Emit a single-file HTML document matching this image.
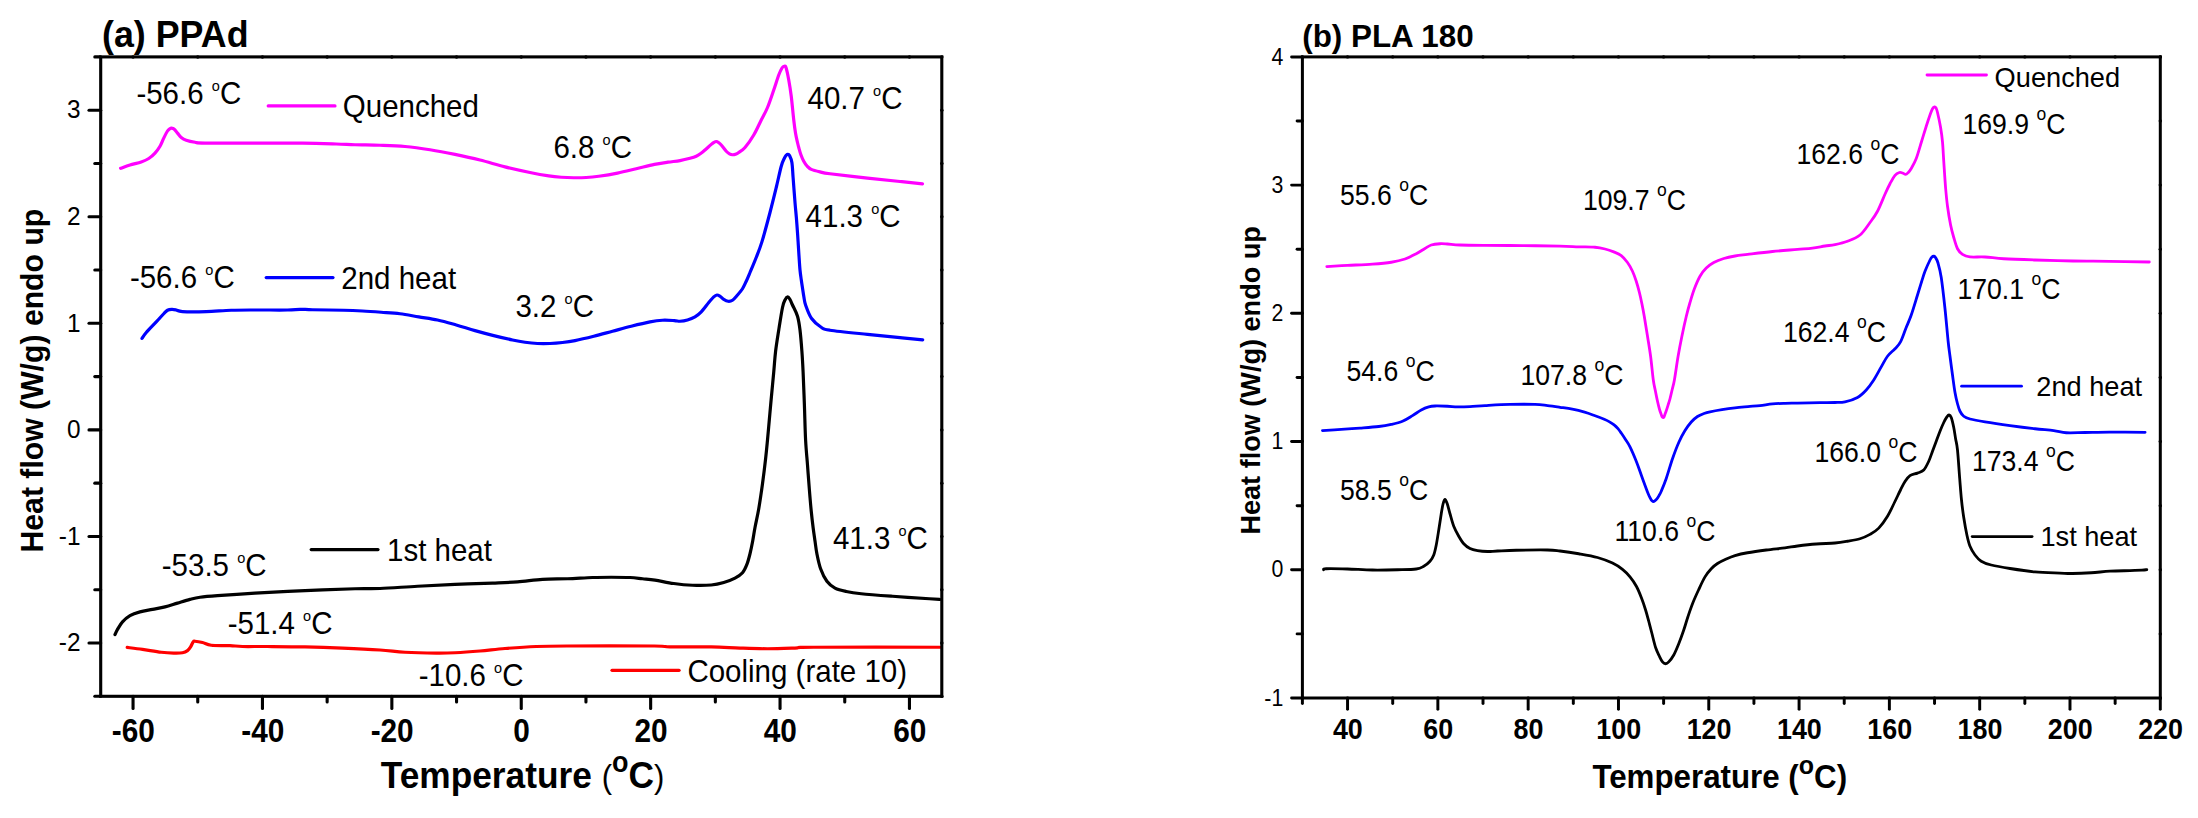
<!DOCTYPE html>
<html lang="en"><head><meta charset="utf-8"><title>DSC thermograms</title>
<style>
html,body{margin:0;padding:0;background:#fff;}
body{width:2198px;height:818px;overflow:hidden;}
svg{display:block;}
text{font-family:"Liberation Sans",sans-serif;fill:#000;}
.b{font-weight:bold;}
.ax{stroke:#000;fill:none;stroke-linecap:butt;}
.cv{fill:none;stroke-linejoin:round;stroke-linecap:round;}
</style></head><body>
<svg width="2198" height="818" viewBox="0 0 2198 818">
<rect x="0" y="0" width="2198" height="818" fill="#fff"/>
<g id="chart-a">
<path class="cv" d="M127.20,647.40 C129.75,647.73 136.82,648.59 142.50,649.40 C148.18,650.21 156.04,651.63 161.25,652.25 C166.46,652.87 170.21,653.02 173.75,653.10 C177.29,653.18 180.21,653.17 182.50,652.75 C184.79,652.33 186.15,651.58 187.50,650.60 C188.85,649.62 189.67,648.35 190.60,646.90 C191.53,645.45 192.37,642.84 193.10,641.90 C193.83,640.96 193.43,641.15 195.00,641.25 C196.57,641.35 199.79,641.83 202.50,642.50 C205.21,643.17 206.67,644.73 211.25,645.25 C215.83,645.77 224.79,645.39 230.00,645.60 C235.21,645.81 236.25,646.35 242.50,646.50 C248.75,646.65 257.08,646.43 267.50,646.50 C277.92,646.57 292.50,646.63 305.00,646.90 C317.50,647.17 330.00,647.58 342.50,648.10 C355.00,648.62 369.58,649.31 380.00,650.00 C390.42,650.69 395.62,651.73 405.00,652.25 C414.38,652.77 427.92,653.02 436.25,653.10 C444.58,653.18 447.71,653.10 455.00,652.75 C462.29,652.40 471.67,651.71 480.00,651.00 C488.33,650.29 495.62,649.25 505.00,648.50 C514.38,647.75 525.83,646.92 536.25,646.50 C546.67,646.08 547.81,646.08 567.50,646.00 C587.19,645.92 637.32,645.85 654.40,646.00 C671.48,646.15 660.52,646.75 670.00,646.90 C679.48,647.05 699.58,646.70 711.25,646.90 C722.92,647.10 730.62,647.79 740.00,648.10 C749.38,648.41 758.33,648.75 767.50,648.75 C776.67,648.75 787.29,648.35 795.00,648.10 C802.71,647.85 789.58,647.39 813.75,647.25 C837.92,647.11 918.96,647.25 940.00,647.25" stroke="#ff0000" stroke-width="3.20"/>
<path class="cv" d="M115.00,634.50 C115.42,633.65 116.25,631.50 117.50,629.40 C118.75,627.30 120.42,624.20 122.50,621.90 C124.58,619.60 127.08,617.27 130.00,615.60 C132.92,613.93 136.25,612.93 140.00,611.90 C143.75,610.87 148.33,610.23 152.50,609.40 C156.67,608.57 160.83,607.95 165.00,606.90 C169.17,605.85 173.33,604.35 177.50,603.10 C181.67,601.85 186.25,600.38 190.00,599.40 C193.75,598.42 195.42,597.88 200.00,597.25 C204.58,596.62 208.33,596.29 217.50,595.60 C226.67,594.91 240.42,593.93 255.00,593.10 C269.58,592.27 288.33,591.33 305.00,590.60 C321.67,589.88 342.50,589.10 355.00,588.75 C367.50,588.40 369.58,588.92 380.00,588.50 C390.42,588.08 405.00,586.93 417.50,586.25 C430.00,585.57 442.50,584.92 455.00,584.40 C467.50,583.88 482.08,583.52 492.50,583.10 C502.92,582.68 509.17,582.52 517.50,581.90 C525.83,581.28 534.17,579.92 542.50,579.40 C550.83,578.88 559.17,579.07 567.50,578.75 C575.83,578.43 585.21,577.75 592.50,577.50 C599.79,577.25 605.00,577.25 611.25,577.25 C617.50,577.25 624.79,577.25 630.00,577.50 C635.21,577.75 638.33,578.32 642.50,578.75 C646.67,579.18 649.79,579.31 655.00,580.10 C660.21,580.89 667.50,582.64 673.75,583.50 C680.00,584.36 686.25,585.00 692.50,585.25 C698.75,585.50 706.04,585.46 711.25,585.00 C716.46,584.54 719.79,583.65 723.75,582.50 C727.71,581.35 731.88,579.73 735.00,578.10 C738.12,576.48 740.52,575.03 742.50,572.75 C744.48,570.47 745.65,567.57 746.90,564.40 C748.15,561.23 749.03,557.65 750.00,553.75 C750.97,549.85 751.87,545.38 752.70,541.00 C753.53,536.62 753.99,532.88 755.00,527.50 C756.01,522.12 757.50,516.04 758.75,508.75 C760.00,501.46 761.36,492.08 762.50,483.75 C763.64,475.42 764.77,466.04 765.60,458.75 C766.43,451.46 766.88,446.46 767.50,440.00 C768.12,433.54 768.70,426.67 769.30,420.00 C769.90,413.33 770.36,408.00 771.10,400.00 C771.84,392.00 773.00,380.12 773.75,372.00 C774.50,363.88 774.77,358.25 775.60,351.25 C776.43,344.25 777.60,337.29 778.75,330.00 C779.90,322.71 781.46,312.50 782.50,307.50 C783.54,302.50 784.12,301.77 785.00,300.00 C785.88,298.23 786.92,296.98 787.75,296.90 C788.58,296.82 789.21,298.15 790.00,299.50 C790.79,300.85 791.25,302.21 792.50,305.00 C793.75,307.79 796.25,312.08 797.50,316.25 C798.75,320.42 799.27,324.17 800.00,330.00 C800.73,335.83 801.38,344.25 801.90,351.25 C802.42,358.25 802.68,363.04 803.10,372.00 C803.52,380.96 803.98,393.67 804.40,405.00 C804.82,416.33 805.08,430.00 805.60,440.00 C806.12,450.00 806.87,456.67 807.50,465.00 C808.13,473.33 808.77,482.29 809.40,490.00 C810.02,497.71 810.63,505.00 811.25,511.25 C811.87,517.50 812.48,522.54 813.10,527.50 C813.73,532.46 814.37,536.62 815.00,541.00 C815.63,545.38 815.97,549.12 816.90,553.75 C817.83,558.38 818.93,564.17 820.60,568.75 C822.27,573.33 824.50,578.02 826.90,581.25 C829.30,584.48 831.77,586.39 835.00,588.10 C838.23,589.81 841.88,590.56 846.25,591.50 C850.62,592.44 853.54,592.96 861.25,593.75 C868.96,594.54 881.14,595.42 892.50,596.25 C903.86,597.08 921.48,598.21 929.40,598.75 C937.32,599.29 938.23,599.38 940.00,599.50" stroke="#000000" stroke-width="3.20"/>
<path class="cv" d="M142.00,338.40 C142.71,337.42 143.88,335.25 146.25,332.50 C148.62,329.75 153.33,325.02 156.25,321.90 C159.17,318.77 161.88,315.69 163.75,313.75 C165.62,311.81 166.14,310.98 167.50,310.25 C168.86,309.52 170.44,309.44 171.90,309.40 C173.36,309.36 174.48,309.63 176.25,310.00 C178.02,310.37 177.50,311.33 182.50,311.60 C187.50,311.87 198.12,311.83 206.25,311.60 C214.38,311.38 222.92,310.52 231.25,310.25 C239.58,309.98 246.88,310.04 256.25,310.00 C265.62,309.96 280.21,310.12 287.50,310.00 C294.79,309.88 295.83,309.34 300.00,309.30 C304.17,309.26 305.21,309.59 312.50,309.75 C319.79,309.91 335.42,310.04 343.75,310.25 C352.08,310.46 356.25,310.67 362.50,311.00 C368.75,311.33 375.00,311.79 381.25,312.25 C387.50,312.71 393.75,312.98 400.00,313.75 C406.25,314.52 412.50,315.86 418.75,316.90 C425.00,317.94 431.25,318.65 437.50,320.00 C443.75,321.35 450.00,323.23 456.25,325.00 C462.50,326.77 468.75,328.83 475.00,330.60 C481.25,332.37 487.50,334.03 493.75,335.60 C500.00,337.17 507.29,338.89 512.50,340.00 C517.71,341.11 520.83,341.67 525.00,342.25 C529.17,342.83 533.33,343.29 537.50,343.50 C541.67,343.71 545.83,343.67 550.00,343.50 C554.17,343.33 558.33,342.98 562.50,342.50 C566.67,342.02 569.79,341.64 575.00,340.60 C580.21,339.56 587.50,337.81 593.75,336.25 C600.00,334.69 606.25,332.92 612.50,331.25 C618.75,329.58 625.00,327.81 631.25,326.25 C637.50,324.69 644.79,322.90 650.00,321.90 C655.21,320.90 658.43,320.47 662.50,320.25 C666.57,320.03 671.48,320.43 674.40,320.60 C677.32,320.77 677.82,321.35 680.00,321.25 C682.18,321.15 685.00,320.73 687.50,320.00 C690.00,319.27 692.71,318.25 695.00,316.90 C697.29,315.55 698.96,314.30 701.25,311.90 C703.54,309.50 706.67,305.00 708.75,302.50 C710.83,300.00 712.39,298.15 713.75,296.90 C715.11,295.65 715.86,295.11 716.90,295.00 C717.94,294.89 718.86,295.52 720.00,296.25 C721.14,296.98 722.40,298.57 723.75,299.40 C725.10,300.23 726.64,301.11 728.10,301.25 C729.56,301.39 730.93,301.29 732.50,300.25 C734.07,299.21 735.83,296.92 737.50,295.00 C739.17,293.08 741.04,291.04 742.50,288.75 C743.96,286.46 745.00,283.96 746.25,281.25 C747.50,278.54 748.38,276.38 750.00,272.50 C751.62,268.62 754.02,263.10 756.00,258.00 C757.98,252.90 759.57,249.48 761.90,241.90 C764.23,234.32 767.61,221.57 770.00,212.50 C772.39,203.43 774.38,195.21 776.25,187.50 C778.12,179.79 779.88,171.17 781.25,166.25 C782.62,161.33 783.62,159.88 784.50,158.00 C785.38,156.12 785.96,155.60 786.50,155.00 C787.04,154.40 787.25,154.32 787.75,154.40 C788.25,154.48 788.81,154.15 789.50,155.50 C790.19,156.85 791.30,158.83 791.90,162.50 C792.50,166.17 792.58,170.83 793.10,177.50 C793.62,184.17 794.45,195.75 795.00,202.50 C795.55,209.25 795.97,212.72 796.40,218.00 C796.83,223.28 797.28,229.70 797.60,234.20 C797.92,238.70 798.07,241.37 798.30,245.00 C798.53,248.63 798.72,251.83 799.00,256.00 C799.28,260.17 799.62,266.00 800.00,270.00 C800.38,274.00 800.87,276.88 801.30,280.00 C801.73,283.12 802.17,285.92 802.60,288.75 C803.03,291.58 803.40,294.29 803.90,297.00 C804.40,299.71 804.32,301.42 805.60,305.00 C806.88,308.58 808.95,314.75 811.60,318.50 C814.25,322.25 818.43,325.54 821.50,327.50 C824.57,329.46 822.33,329.10 830.00,330.25 C837.67,331.40 855.83,333.17 867.50,334.40 C879.17,335.62 890.80,336.68 900.00,337.60 C909.20,338.52 918.92,339.52 922.70,339.90" stroke="#0000ff" stroke-width="3.20"/>
<path class="cv" d="M120.60,168.30 C122.17,167.75 126.56,166.07 130.00,165.00 C133.44,163.93 138.12,162.98 141.25,161.90 C144.38,160.82 146.46,159.97 148.75,158.50 C151.04,157.03 153.12,155.14 155.00,153.10 C156.88,151.06 158.54,148.75 160.00,146.25 C161.46,143.75 162.50,140.64 163.75,138.10 C165.00,135.56 166.54,132.52 167.50,131.00 C168.46,129.48 168.88,129.48 169.50,129.00 C170.12,128.52 170.67,128.20 171.25,128.10 C171.83,128.00 172.47,128.18 173.00,128.40 C173.53,128.62 173.65,128.62 174.40,129.40 C175.15,130.18 176.36,131.75 177.50,133.10 C178.64,134.45 179.79,136.31 181.25,137.50 C182.71,138.69 183.96,139.46 186.25,140.25 C188.54,141.04 191.88,141.78 195.00,142.25 C198.12,142.72 195.00,142.96 205.00,143.10 C215.00,143.24 238.75,143.08 255.00,143.10 C271.25,143.12 288.96,143.05 302.50,143.20 C316.04,143.35 327.50,143.74 336.25,144.00 C345.00,144.26 347.71,144.54 355.00,144.75 C362.29,144.96 371.67,144.96 380.00,145.25 C388.33,145.54 396.67,145.75 405.00,146.50 C413.33,147.25 421.67,148.43 430.00,149.75 C438.33,151.07 446.67,152.69 455.00,154.40 C463.33,156.11 471.67,157.92 480.00,160.00 C488.33,162.08 496.67,164.82 505.00,166.90 C513.33,168.98 522.71,171.00 530.00,172.50 C537.29,174.00 543.54,175.11 548.75,175.90 C553.96,176.69 557.08,176.94 561.25,177.25 C565.42,177.56 569.58,177.71 573.75,177.75 C577.92,177.79 582.08,177.75 586.25,177.50 C590.42,177.25 593.54,176.98 598.75,176.25 C603.96,175.52 611.25,174.35 617.50,173.10 C623.75,171.85 630.10,170.20 636.25,168.75 C642.40,167.30 649.11,165.49 654.40,164.40 C659.69,163.31 663.73,162.83 668.00,162.20 C672.27,161.57 676.33,161.25 680.00,160.60 C683.67,159.95 687.29,159.03 690.00,158.30 C692.71,157.58 694.42,157.08 696.25,156.25 C698.08,155.42 699.54,154.34 701.00,153.30 C702.46,152.26 703.29,151.48 705.00,150.00 C706.71,148.52 709.75,145.68 711.25,144.40 C712.75,143.12 713.17,142.78 714.00,142.30 C714.83,141.82 715.50,141.47 716.25,141.50 C717.00,141.53 717.67,141.92 718.50,142.50 C719.33,143.08 719.96,143.54 721.25,145.00 C722.54,146.46 724.88,149.78 726.25,151.25 C727.62,152.72 728.46,153.22 729.50,153.80 C730.54,154.38 731.50,154.67 732.50,154.75 C733.50,154.83 734.46,154.68 735.50,154.30 C736.54,153.93 737.17,153.63 738.75,152.50 C740.33,151.37 742.50,150.42 745.00,147.50 C747.50,144.58 751.04,139.58 753.75,135.00 C756.46,130.42 758.96,124.58 761.25,120.00 C763.54,115.42 765.42,112.50 767.50,107.50 C769.58,102.50 771.88,95.42 773.75,90.00 C775.62,84.58 777.38,78.67 778.75,75.00 C780.12,71.33 781.11,69.46 782.00,68.00 C782.89,66.54 783.43,66.33 784.10,66.25 C784.77,66.17 785.23,65.21 786.00,67.50 C786.77,69.79 787.88,75.21 788.75,80.00 C789.62,84.79 790.42,89.58 791.25,96.25 C792.08,102.92 793.04,113.88 793.75,120.00 C794.46,126.12 794.88,129.25 795.50,133.00 C796.12,136.75 796.96,140.08 797.50,142.50 C798.04,144.92 798.17,145.42 798.75,147.50 C799.33,149.58 800.17,152.71 801.00,155.00 C801.83,157.29 802.75,159.42 803.75,161.25 C804.75,163.08 805.75,164.64 807.00,166.00 C808.25,167.36 809.08,168.42 811.25,169.40 C813.42,170.38 816.88,171.18 820.00,171.90 C823.12,172.62 822.08,172.72 830.00,173.75 C837.92,174.78 855.83,176.81 867.50,178.10 C879.17,179.39 890.83,180.53 900.00,181.50 C909.17,182.47 918.75,183.50 922.50,183.90" stroke="#ff00ff" stroke-width="3.20"/>
<rect class="ax" x="100.70" y="56.90" width="841.10" height="639.40" stroke-width="3.10"/>
<line x1="94.80" y1="696.30" x2="100.70" y2="696.30" stroke="#000" stroke-width="3.10" stroke-linecap="round"/>
<line x1="89.00" y1="643.02" x2="100.70" y2="643.02" stroke="#000" stroke-width="3.10" stroke-linecap="round"/>
<text transform="translate(80.50,651.32) scale(1,1.0900)" font-size="24.40" text-anchor="end">-2</text>
<line x1="94.80" y1="589.73" x2="100.70" y2="589.73" stroke="#000" stroke-width="3.10" stroke-linecap="round"/>
<line x1="89.00" y1="536.45" x2="100.70" y2="536.45" stroke="#000" stroke-width="3.10" stroke-linecap="round"/>
<text transform="translate(80.50,544.75) scale(1,1.0900)" font-size="24.40" text-anchor="end">-1</text>
<line x1="94.80" y1="483.17" x2="100.70" y2="483.17" stroke="#000" stroke-width="3.10" stroke-linecap="round"/>
<line x1="89.00" y1="429.88" x2="100.70" y2="429.88" stroke="#000" stroke-width="3.10" stroke-linecap="round"/>
<text transform="translate(80.50,438.18) scale(1,1.0900)" font-size="24.40" text-anchor="end">0</text>
<line x1="94.80" y1="376.60" x2="100.70" y2="376.60" stroke="#000" stroke-width="3.10" stroke-linecap="round"/>
<line x1="89.00" y1="323.32" x2="100.70" y2="323.32" stroke="#000" stroke-width="3.10" stroke-linecap="round"/>
<text transform="translate(80.50,331.62) scale(1,1.0900)" font-size="24.40" text-anchor="end">1</text>
<line x1="94.80" y1="270.03" x2="100.70" y2="270.03" stroke="#000" stroke-width="3.10" stroke-linecap="round"/>
<line x1="89.00" y1="216.75" x2="100.70" y2="216.75" stroke="#000" stroke-width="3.10" stroke-linecap="round"/>
<text transform="translate(80.50,225.05) scale(1,1.0900)" font-size="24.40" text-anchor="end">2</text>
<line x1="94.80" y1="163.47" x2="100.70" y2="163.47" stroke="#000" stroke-width="3.10" stroke-linecap="round"/>
<line x1="89.00" y1="110.18" x2="100.70" y2="110.18" stroke="#000" stroke-width="3.10" stroke-linecap="round"/>
<text transform="translate(80.50,118.48) scale(1,1.0900)" font-size="24.40" text-anchor="end">3</text>
<line x1="94.80" y1="56.90" x2="100.70" y2="56.90" stroke="#000" stroke-width="3.10" stroke-linecap="round"/>
<line x1="133.05" y1="696.30" x2="133.05" y2="708.50" stroke="#000" stroke-width="3.10" stroke-linecap="round"/>
<text transform="translate(133.35,742.00) scale(1,1.1100)" font-size="29.80" class="b" text-anchor="middle">-60</text>
<line x1="197.75" y1="696.30" x2="197.75" y2="701.90" stroke="#000" stroke-width="3.10" stroke-linecap="round"/>
<line x1="262.45" y1="696.30" x2="262.45" y2="708.50" stroke="#000" stroke-width="3.10" stroke-linecap="round"/>
<text transform="translate(262.75,742.00) scale(1,1.1100)" font-size="29.80" class="b" text-anchor="middle">-40</text>
<line x1="327.15" y1="696.30" x2="327.15" y2="701.90" stroke="#000" stroke-width="3.10" stroke-linecap="round"/>
<line x1="391.85" y1="696.30" x2="391.85" y2="708.50" stroke="#000" stroke-width="3.10" stroke-linecap="round"/>
<text transform="translate(392.15,742.00) scale(1,1.1100)" font-size="29.80" class="b" text-anchor="middle">-20</text>
<line x1="456.55" y1="696.30" x2="456.55" y2="701.90" stroke="#000" stroke-width="3.10" stroke-linecap="round"/>
<line x1="521.25" y1="696.30" x2="521.25" y2="708.50" stroke="#000" stroke-width="3.10" stroke-linecap="round"/>
<text transform="translate(521.55,742.00) scale(1,1.1100)" font-size="29.80" class="b" text-anchor="middle">0</text>
<line x1="585.95" y1="696.30" x2="585.95" y2="701.90" stroke="#000" stroke-width="3.10" stroke-linecap="round"/>
<line x1="650.65" y1="696.30" x2="650.65" y2="708.50" stroke="#000" stroke-width="3.10" stroke-linecap="round"/>
<text transform="translate(650.95,742.00) scale(1,1.1100)" font-size="29.80" class="b" text-anchor="middle">20</text>
<line x1="715.35" y1="696.30" x2="715.35" y2="701.90" stroke="#000" stroke-width="3.10" stroke-linecap="round"/>
<line x1="780.05" y1="696.30" x2="780.05" y2="708.50" stroke="#000" stroke-width="3.10" stroke-linecap="round"/>
<text transform="translate(780.35,742.00) scale(1,1.1100)" font-size="29.80" class="b" text-anchor="middle">40</text>
<line x1="844.75" y1="696.30" x2="844.75" y2="701.90" stroke="#000" stroke-width="3.10" stroke-linecap="round"/>
<line x1="909.45" y1="696.30" x2="909.45" y2="708.50" stroke="#000" stroke-width="3.10" stroke-linecap="round"/>
<text transform="translate(909.75,742.00) scale(1,1.1100)" font-size="29.80" class="b" text-anchor="middle">60</text>
<circle cx="133.05" cy="56.90" r="1.75" fill="#000"/>
<circle cx="197.75" cy="56.90" r="1.75" fill="#000"/>
<circle cx="262.45" cy="56.90" r="1.75" fill="#000"/>
<circle cx="327.15" cy="56.90" r="1.75" fill="#000"/>
<circle cx="391.85" cy="56.90" r="1.75" fill="#000"/>
<circle cx="456.55" cy="56.90" r="1.75" fill="#000"/>
<circle cx="521.25" cy="56.90" r="1.75" fill="#000"/>
<circle cx="585.95" cy="56.90" r="1.75" fill="#000"/>
<circle cx="650.65" cy="56.90" r="1.75" fill="#000"/>
<circle cx="715.35" cy="56.90" r="1.75" fill="#000"/>
<circle cx="780.05" cy="56.90" r="1.75" fill="#000"/>
<circle cx="844.75" cy="56.90" r="1.75" fill="#000"/>
<circle cx="909.45" cy="56.90" r="1.75" fill="#000"/>
<circle cx="941.80" cy="696.30" r="1.75" fill="#000"/>
<circle cx="941.80" cy="643.02" r="1.75" fill="#000"/>
<circle cx="941.80" cy="589.73" r="1.75" fill="#000"/>
<circle cx="941.80" cy="536.45" r="1.75" fill="#000"/>
<circle cx="941.80" cy="483.17" r="1.75" fill="#000"/>
<circle cx="941.80" cy="429.88" r="1.75" fill="#000"/>
<circle cx="941.80" cy="376.60" r="1.75" fill="#000"/>
<circle cx="941.80" cy="323.32" r="1.75" fill="#000"/>
<circle cx="941.80" cy="270.03" r="1.75" fill="#000"/>
<circle cx="941.80" cy="216.75" r="1.75" fill="#000"/>
<circle cx="941.80" cy="163.47" r="1.75" fill="#000"/>
<circle cx="941.80" cy="110.18" r="1.75" fill="#000"/>
<circle cx="941.80" cy="56.90" r="1.75" fill="#000"/>
<text transform="translate(102.00,46.90) scale(1,1.0400)" font-size="35.80" class="b">(a) PPAd</text>
<text transform="translate(380.70,787.90) scale(1,1.0650)" font-size="35.30" class="b">Temperature <tspan font-weight="normal" font-size="31">(</tspan><tspan font-size="27" dy="-15">o</tspan><tspan dy="15">C</tspan><tspan font-weight="normal" font-size="31">)</tspan></text>
<text transform="translate(43.10,552.50) rotate(-90) scale(1,1.0500)" font-size="30.20" class="b">Heat flow (W/g) endo up</text>
<text transform="translate(136.40,103.60) scale(1,1.0550)" font-size="29.50">-56.6 <tspan font-size="14.50" dy="-12.30">o</tspan><tspan dy="12.30">C</tspan></text>
<text transform="translate(553.40,157.90) scale(1,1.0550)" font-size="29.50">6.8 <tspan font-size="14.50" dy="-12.30">o</tspan><tspan dy="12.30">C</tspan></text>
<text transform="translate(807.50,109.10) scale(1,1.0550)" font-size="29.50">40.7 <tspan font-size="14.50" dy="-12.30">o</tspan><tspan dy="12.30">C</tspan></text>
<text transform="translate(805.60,226.90) scale(1,1.0550)" font-size="29.50">41.3 <tspan font-size="14.50" dy="-12.30">o</tspan><tspan dy="12.30">C</tspan></text>
<text transform="translate(129.90,287.60) scale(1,1.0550)" font-size="29.50">-56.6 <tspan font-size="14.50" dy="-12.30">o</tspan><tspan dy="12.30">C</tspan></text>
<text transform="translate(515.40,316.80) scale(1,1.0550)" font-size="29.50">3.2 <tspan font-size="14.50" dy="-12.30">o</tspan><tspan dy="12.30">C</tspan></text>
<text transform="translate(161.80,576.40) scale(1,1.0550)" font-size="29.50">-53.5 <tspan font-size="14.50" dy="-12.30">o</tspan><tspan dy="12.30">C</tspan></text>
<text transform="translate(227.70,633.70) scale(1,1.0550)" font-size="29.50">-51.4 <tspan font-size="14.50" dy="-12.30">o</tspan><tspan dy="12.30">C</tspan></text>
<text transform="translate(418.70,686.10) scale(1,1.0550)" font-size="29.50">-10.6 <tspan font-size="14.50" dy="-12.30">o</tspan><tspan dy="12.30">C</tspan></text>
<text transform="translate(832.90,549.40) scale(1,1.0550)" font-size="29.50">41.3 <tspan font-size="14.50" dy="-12.30">o</tspan><tspan dy="12.30">C</tspan></text>
<line x1="268.20" y1="105.90" x2="335.00" y2="105.90" stroke="#ff00ff" stroke-width="3.20" stroke-linecap="round"/>
<text transform="translate(342.80,116.90) scale(1,1.0500)" font-size="29.50">Quenched</text>
<line x1="266.20" y1="277.60" x2="333.00" y2="277.60" stroke="#0000ff" stroke-width="3.20" stroke-linecap="round"/>
<text transform="translate(341.30,288.50) scale(1,1.0500)" font-size="29.50">2nd heat</text>
<line x1="311.20" y1="549.60" x2="378.00" y2="549.60" stroke="#000" stroke-width="3.20" stroke-linecap="round"/>
<text transform="translate(387.00,560.50) scale(1,1.0500)" font-size="29.50">1st heat</text>
<line x1="612.00" y1="670.30" x2="679.10" y2="670.30" stroke="#ff0000" stroke-width="3.20" stroke-linecap="round"/>
<text transform="translate(687.40,681.50) scale(1,1.0500)" font-size="29.50">Cooling (rate 10)</text>
</g>
<g id="chart-b">
<path class="cv" d="M1323.61,569.80 C1324.05,569.62 1322.27,568.88 1326.25,568.75 C1330.23,568.62 1339.79,568.79 1347.50,569.00 C1355.21,569.21 1364.17,569.88 1372.50,570.00 C1380.83,570.12 1390.21,569.92 1397.50,569.75 C1404.79,569.58 1411.88,569.58 1416.25,569.00 C1420.62,568.42 1421.46,567.54 1423.75,566.25 C1426.04,564.96 1428.33,563.12 1430.00,561.25 C1431.67,559.38 1432.71,557.71 1433.75,555.00 C1434.79,552.29 1435.42,549.17 1436.25,545.00 C1437.08,540.83 1437.92,535.21 1438.75,530.00 C1439.58,524.79 1440.53,518.12 1441.25,513.75 C1441.97,509.38 1442.47,506.14 1443.10,503.75 C1443.72,501.36 1444.31,499.40 1445.00,499.40 C1445.69,499.40 1446.42,501.36 1447.25,503.75 C1448.08,506.14 1448.92,510.00 1450.00,513.75 C1451.08,517.50 1452.29,522.50 1453.75,526.25 C1455.21,530.00 1457.08,533.33 1458.75,536.25 C1460.42,539.17 1461.88,541.71 1463.75,543.75 C1465.62,545.79 1467.71,547.36 1470.00,548.50 C1472.29,549.64 1474.58,550.10 1477.50,550.60 C1480.42,551.10 1484.17,551.43 1487.50,551.50 C1490.83,551.57 1492.71,551.21 1497.50,551.00 C1502.29,550.79 1507.92,550.42 1516.25,550.25 C1524.58,550.08 1540.21,549.88 1547.50,550.00 C1554.79,550.12 1554.79,550.38 1560.00,551.00 C1565.21,551.62 1572.50,552.67 1578.75,553.75 C1585.00,554.83 1591.88,555.94 1597.50,557.50 C1603.12,559.06 1608.33,561.12 1612.50,563.10 C1616.67,565.08 1619.58,567.10 1622.50,569.40 C1625.42,571.70 1627.67,574.05 1630.00,576.90 C1632.33,579.75 1634.58,582.98 1636.50,586.50 C1638.42,590.02 1639.98,594.08 1641.50,598.00 C1643.02,601.92 1644.39,606.12 1645.60,610.00 C1646.81,613.88 1647.72,617.42 1648.75,621.25 C1649.78,625.08 1650.66,628.62 1651.80,633.00 C1652.94,637.38 1654.33,643.62 1655.60,647.50 C1656.87,651.38 1658.25,653.85 1659.40,656.25 C1660.55,658.65 1661.47,660.65 1662.50,661.90 C1663.53,663.15 1664.56,663.75 1665.60,663.75 C1666.64,663.75 1667.39,663.36 1668.75,661.90 C1670.11,660.44 1672.08,658.02 1673.75,655.00 C1675.42,651.98 1677.12,647.78 1678.75,643.75 C1680.38,639.72 1681.96,635.34 1683.50,630.80 C1685.04,626.26 1686.45,621.13 1688.00,616.50 C1689.55,611.87 1691.01,607.50 1692.80,603.00 C1694.59,598.50 1696.72,593.85 1698.75,589.50 C1700.78,585.15 1702.92,580.36 1705.00,576.90 C1707.08,573.44 1709.17,570.98 1711.25,568.75 C1713.33,566.52 1715.00,565.12 1717.50,563.50 C1720.00,561.88 1723.33,560.32 1726.25,559.00 C1729.17,557.68 1731.46,556.64 1735.00,555.60 C1738.54,554.56 1742.29,553.68 1747.50,552.75 C1752.71,551.82 1760.00,550.81 1766.25,550.00 C1772.50,549.19 1779.79,548.57 1785.00,547.90 C1790.21,547.23 1792.29,546.65 1797.50,546.00 C1802.71,545.35 1810.00,544.50 1816.25,544.00 C1822.50,543.50 1829.79,543.46 1835.00,543.00 C1840.21,542.54 1843.33,541.96 1847.50,541.25 C1851.67,540.54 1856.25,539.89 1860.00,538.75 C1863.75,537.61 1866.88,536.17 1870.00,534.40 C1873.12,532.62 1875.83,531.12 1878.75,528.10 C1881.67,525.08 1884.84,520.60 1887.50,516.25 C1890.16,511.90 1892.53,506.38 1894.70,502.00 C1896.87,497.62 1898.78,493.42 1900.50,490.00 C1902.22,486.58 1903.42,483.90 1905.00,481.50 C1906.58,479.10 1907.92,477.00 1910.00,475.60 C1912.08,474.20 1915.21,474.03 1917.50,473.10 C1919.79,472.17 1921.88,471.98 1923.75,470.00 C1925.62,468.02 1927.29,464.38 1928.75,461.25 C1930.21,458.12 1931.25,454.58 1932.50,451.25 C1933.75,447.92 1935.00,444.58 1936.25,441.25 C1937.50,437.92 1938.75,434.38 1940.00,431.25 C1941.25,428.12 1942.60,424.89 1943.75,422.50 C1944.90,420.11 1946.03,418.15 1946.90,416.90 C1947.78,415.65 1948.28,414.90 1949.00,415.00 C1949.72,415.10 1950.46,415.42 1951.25,417.50 C1952.04,419.58 1953.03,423.96 1953.75,427.50 C1954.47,431.04 1954.97,435.00 1955.60,438.75 C1956.22,442.50 1956.82,443.38 1957.50,450.00 C1958.18,456.62 1959.03,470.17 1959.70,478.50 C1960.37,486.83 1960.83,493.50 1961.50,500.00 C1962.17,506.50 1962.85,511.67 1963.75,517.50 C1964.65,523.33 1965.86,530.21 1966.90,535.00 C1967.94,539.79 1968.65,542.92 1970.00,546.25 C1971.35,549.58 1973.12,552.50 1975.00,555.00 C1976.88,557.50 1978.54,559.58 1981.25,561.25 C1983.96,562.92 1986.46,563.79 1991.25,565.00 C1996.04,566.21 2002.71,567.35 2010.00,568.50 C2017.29,569.65 2026.67,571.13 2035.00,571.90 C2043.33,572.67 2053.75,572.83 2060.00,573.10 C2066.25,573.37 2067.29,573.56 2072.50,573.50 C2077.71,573.44 2085.00,573.13 2091.25,572.75 C2097.50,572.37 2103.54,571.56 2110.00,571.20 C2116.46,570.84 2124.67,570.77 2130.00,570.60 C2135.33,570.43 2139.20,570.36 2142.00,570.20 C2144.80,570.04 2146.01,569.73 2146.81,569.64" stroke="#000000" stroke-width="2.80"/>
<path class="cv" d="M1322.45,430.53 C1325.58,430.34 1334.99,429.80 1341.25,429.40 C1347.51,429.00 1353.75,428.58 1360.00,428.10 C1366.25,427.62 1373.54,427.12 1378.75,426.50 C1383.96,425.88 1387.29,425.27 1391.25,424.40 C1395.21,423.52 1398.96,422.72 1402.50,421.25 C1406.04,419.78 1409.38,417.48 1412.50,415.60 C1415.62,413.73 1418.54,411.45 1421.25,410.00 C1423.96,408.55 1426.46,407.57 1428.75,406.90 C1431.04,406.23 1431.88,406.11 1435.00,406.00 C1438.12,405.89 1443.75,406.10 1447.50,406.25 C1451.25,406.40 1453.75,406.84 1457.50,406.90 C1461.25,406.96 1465.42,406.82 1470.00,406.60 C1474.58,406.38 1478.33,405.97 1485.00,405.60 C1491.67,405.23 1501.67,404.60 1510.00,404.40 C1518.33,404.20 1528.75,404.20 1535.00,404.40 C1541.25,404.60 1543.33,405.12 1547.50,405.60 C1551.67,406.08 1555.87,406.70 1560.00,407.30 C1564.13,407.90 1568.20,408.38 1572.30,409.20 C1576.40,410.02 1580.92,411.15 1584.60,412.20 C1588.28,413.25 1591.13,414.33 1594.40,415.50 C1597.67,416.67 1601.75,418.18 1604.20,419.20 C1606.65,420.22 1607.45,420.65 1609.10,421.60 C1610.75,422.55 1612.62,423.72 1614.10,424.90 C1615.58,426.08 1616.78,427.30 1618.00,428.70 C1619.22,430.10 1620.15,431.50 1621.40,433.30 C1622.65,435.10 1624.07,437.23 1625.50,439.50 C1626.93,441.77 1628.21,443.27 1630.00,446.90 C1631.79,450.52 1634.38,456.57 1636.25,461.25 C1638.12,465.93 1639.58,470.42 1641.25,475.00 C1642.92,479.58 1645.08,485.58 1646.25,488.75 C1647.42,491.92 1647.67,492.52 1648.30,494.00 C1648.92,495.48 1649.45,496.53 1650.00,497.60 C1650.55,498.67 1651.08,499.75 1651.60,500.40 C1652.12,501.05 1652.57,501.42 1653.10,501.50 C1653.63,501.58 1654.17,501.35 1654.80,500.90 C1655.43,500.45 1656.20,499.68 1656.90,498.80 C1657.60,497.92 1658.28,496.86 1659.00,495.60 C1659.72,494.34 1660.04,494.10 1661.25,491.25 C1662.46,488.40 1664.38,483.92 1666.25,478.50 C1668.12,473.08 1670.42,464.75 1672.50,458.75 C1674.58,452.75 1676.67,447.19 1678.75,442.50 C1680.83,437.81 1682.92,434.02 1685.00,430.60 C1687.08,427.18 1689.17,424.35 1691.25,422.00 C1693.33,419.65 1695.38,417.92 1697.50,416.50 C1699.62,415.08 1701.92,414.28 1704.00,413.50 C1706.08,412.72 1707.00,412.45 1710.00,411.80 C1713.00,411.15 1717.83,410.27 1722.00,409.60 C1726.17,408.93 1730.67,408.30 1735.00,407.80 C1739.33,407.30 1743.83,406.97 1748.00,406.60 C1752.17,406.23 1755.92,406.05 1760.00,405.60 C1764.08,405.15 1768.33,404.28 1772.50,403.90 C1776.67,403.52 1780.83,403.43 1785.00,403.30 C1789.17,403.17 1791.67,403.20 1797.50,403.10 C1803.33,403.00 1813.75,402.80 1820.00,402.70 C1826.25,402.60 1830.83,402.63 1835.00,402.50 C1839.17,402.37 1841.25,402.73 1845.00,401.90 C1848.75,401.07 1853.96,399.48 1857.50,397.50 C1861.04,395.52 1863.54,392.92 1866.25,390.00 C1868.96,387.08 1871.25,383.85 1873.75,380.00 C1876.25,376.15 1878.96,370.86 1881.25,366.90 C1883.54,362.94 1885.21,359.27 1887.50,356.25 C1889.79,353.23 1892.83,351.14 1895.00,348.75 C1897.17,346.36 1898.67,345.36 1900.50,341.90 C1902.33,338.44 1904.21,332.48 1906.00,328.00 C1907.79,323.52 1909.33,320.50 1911.25,315.00 C1913.17,309.50 1915.79,300.50 1917.50,295.00 C1919.21,289.50 1920.25,285.96 1921.50,282.00 C1922.75,278.04 1923.58,274.92 1925.00,271.25 C1926.42,267.58 1928.83,262.38 1930.00,260.00 C1931.17,257.62 1931.38,257.62 1932.00,257.00 C1932.62,256.38 1933.17,256.17 1933.75,256.25 C1934.33,256.33 1934.79,256.38 1935.50,257.50 C1936.21,258.62 1937.04,259.67 1938.00,263.00 C1938.96,266.33 1940.08,269.88 1941.25,277.50 C1942.42,285.12 1943.86,298.17 1945.00,308.75 C1946.14,319.33 1947.27,333.08 1948.10,341.00 C1948.93,348.92 1949.27,350.58 1950.00,356.25 C1950.73,361.92 1951.67,368.96 1952.50,375.00 C1953.33,381.04 1954.17,387.71 1955.00,392.50 C1955.83,397.29 1956.67,400.62 1957.50,403.75 C1958.33,406.88 1958.96,409.17 1960.00,411.25 C1961.04,413.33 1962.08,414.96 1963.75,416.25 C1965.42,417.54 1966.46,418.06 1970.00,419.00 C1973.54,419.94 1978.33,420.80 1985.00,421.90 C1991.67,423.00 2001.67,424.46 2010.00,425.60 C2018.33,426.74 2027.71,427.92 2035.00,428.75 C2042.29,429.58 2048.54,429.93 2053.75,430.60 C2058.96,431.27 2061.04,432.43 2066.25,432.75 C2071.46,433.07 2077.81,432.61 2085.00,432.50 C2092.19,432.39 2099.38,432.13 2109.40,432.10 C2119.42,432.07 2139.15,432.26 2145.10,432.29" stroke="#0000ff" stroke-width="2.80"/>
<path class="cv" d="M1326.80,266.53 C1330.25,266.34 1339.88,265.80 1347.50,265.40 C1355.12,265.00 1365.21,264.62 1372.50,264.10 C1379.79,263.58 1385.83,263.10 1391.25,262.25 C1396.67,261.40 1400.83,260.42 1405.00,259.00 C1409.17,257.58 1412.92,255.50 1416.25,253.75 C1419.58,252.00 1422.50,249.96 1425.00,248.50 C1427.50,247.04 1428.75,245.79 1431.25,245.00 C1433.75,244.21 1437.29,243.92 1440.00,243.75 C1442.71,243.58 1444.17,243.79 1447.50,244.00 C1450.83,244.21 1453.75,244.77 1460.00,245.00 C1466.25,245.23 1474.58,245.30 1485.00,245.40 C1495.42,245.50 1510.00,245.48 1522.50,245.60 C1535.00,245.72 1550.62,245.90 1560.00,246.10 C1569.38,246.30 1572.92,246.61 1578.75,246.80 C1584.58,246.99 1590.62,246.88 1595.00,247.25 C1599.38,247.62 1601.88,248.22 1605.00,249.00 C1608.12,249.78 1611.04,250.80 1613.75,251.90 C1616.46,253.00 1618.96,253.83 1621.25,255.60 C1623.54,257.37 1625.62,259.89 1627.50,262.50 C1629.38,265.11 1631.04,268.12 1632.50,271.25 C1633.96,274.38 1635.10,277.71 1636.25,281.25 C1637.40,284.79 1638.46,288.75 1639.40,292.50 C1640.34,296.25 1641.08,299.75 1641.90,303.75 C1642.72,307.75 1643.37,311.08 1644.30,316.50 C1645.23,321.92 1646.45,329.62 1647.50,336.25 C1648.55,342.88 1649.63,348.96 1650.60,356.25 C1651.57,363.54 1652.50,374.21 1653.30,380.00 C1654.10,385.79 1654.70,387.46 1655.40,391.00 C1656.10,394.54 1656.82,398.20 1657.50,401.25 C1658.18,404.30 1658.88,407.11 1659.50,409.30 C1660.12,411.49 1660.77,413.17 1661.20,414.40 C1661.63,415.63 1661.78,416.18 1662.10,416.70 C1662.42,417.22 1662.77,417.50 1663.10,417.50 C1663.43,417.50 1663.80,417.22 1664.10,416.70 C1664.40,416.18 1664.58,415.27 1664.90,414.40 C1665.22,413.53 1665.48,413.02 1666.00,411.50 C1666.52,409.98 1667.33,407.43 1668.00,405.30 C1668.67,403.18 1669.30,401.38 1670.00,398.75 C1670.70,396.12 1671.47,392.62 1672.20,389.50 C1672.93,386.38 1673.42,385.54 1674.40,380.00 C1675.38,374.46 1676.85,363.54 1678.10,356.25 C1679.35,348.96 1680.54,342.88 1681.90,336.25 C1683.26,329.62 1684.90,322.12 1686.25,316.50 C1687.60,310.88 1688.64,307.12 1690.00,302.50 C1691.36,297.88 1692.73,293.12 1694.40,288.75 C1696.07,284.38 1698.03,279.69 1700.00,276.25 C1701.97,272.81 1703.96,270.39 1706.25,268.10 C1708.54,265.81 1710.83,264.10 1713.75,262.50 C1716.67,260.90 1720.21,259.58 1723.75,258.50 C1727.29,257.42 1731.04,256.68 1735.00,256.00 C1738.96,255.32 1741.25,255.15 1747.50,254.40 C1753.75,253.65 1764.17,252.33 1772.50,251.50 C1780.83,250.67 1790.83,249.97 1797.50,249.40 C1804.17,248.83 1807.92,248.67 1812.50,248.10 C1817.08,247.53 1821.25,246.58 1825.00,246.00 C1828.75,245.42 1831.25,245.39 1835.00,244.60 C1838.75,243.81 1843.33,242.85 1847.50,241.25 C1851.67,239.65 1856.25,238.12 1860.00,235.00 C1863.75,231.88 1867.08,226.46 1870.00,222.50 C1872.92,218.54 1874.95,216.08 1877.50,211.25 C1880.05,206.42 1883.22,198.08 1885.30,193.50 C1887.38,188.92 1888.38,186.78 1890.00,183.75 C1891.62,180.72 1893.43,177.18 1895.00,175.30 C1896.57,173.43 1898.15,172.88 1899.40,172.50 C1900.65,172.12 1901.47,172.68 1902.50,173.00 C1903.53,173.32 1904.68,174.43 1905.60,174.40 C1906.52,174.37 1907.06,173.78 1908.00,172.80 C1908.94,171.82 1909.88,170.88 1911.25,168.50 C1912.62,166.12 1914.58,162.83 1916.25,158.50 C1917.92,154.17 1919.58,147.88 1921.25,142.50 C1922.92,137.12 1924.79,130.83 1926.25,126.25 C1927.71,121.67 1928.96,117.92 1930.00,115.00 C1931.04,112.08 1931.73,110.10 1932.50,108.75 C1933.27,107.40 1934.02,107.03 1934.60,106.90 C1935.18,106.78 1935.52,107.07 1936.00,108.00 C1936.48,108.93 1936.73,109.25 1937.50,112.50 C1938.27,115.75 1939.77,122.58 1940.60,127.50 C1941.43,132.42 1941.97,136.25 1942.50,142.00 C1943.03,147.75 1943.28,154.33 1943.80,162.00 C1944.32,169.67 1944.98,180.62 1945.60,188.00 C1946.22,195.38 1946.67,200.08 1947.50,206.25 C1948.33,212.42 1949.56,219.79 1950.60,225.00 C1951.64,230.21 1952.60,233.54 1953.75,237.50 C1954.90,241.46 1956.04,245.93 1957.50,248.75 C1958.96,251.57 1960.42,253.04 1962.50,254.40 C1964.58,255.76 1966.25,256.47 1970.00,256.90 C1973.75,257.33 1979.38,256.69 1985.00,257.00 C1990.62,257.31 1995.42,258.25 2003.75,258.75 C2012.08,259.25 2023.46,259.62 2035.00,260.00 C2046.54,260.38 2060.60,260.78 2073.00,261.00 C2085.40,261.22 2096.68,261.14 2109.40,261.30 C2122.12,261.46 2142.65,261.87 2149.30,261.98" stroke="#ff00ff" stroke-width="2.80"/>
<rect class="ax" x="1302.40" y="56.90" width="857.90" height="641.10" stroke-width="3.00"/>
<line x1="1291.60" y1="698.00" x2="1302.40" y2="698.00" stroke="#000" stroke-width="2.95" stroke-linecap="round"/>
<text transform="translate(1283.30,705.60) scale(1,1.1000)" font-size="21.30" text-anchor="end">-1</text>
<line x1="1297.10" y1="633.89" x2="1302.40" y2="633.89" stroke="#000" stroke-width="2.95" stroke-linecap="round"/>
<line x1="1291.60" y1="569.78" x2="1302.40" y2="569.78" stroke="#000" stroke-width="2.95" stroke-linecap="round"/>
<text transform="translate(1283.30,577.38) scale(1,1.1000)" font-size="21.30" text-anchor="end">0</text>
<line x1="1297.10" y1="505.67" x2="1302.40" y2="505.67" stroke="#000" stroke-width="2.95" stroke-linecap="round"/>
<line x1="1291.60" y1="441.56" x2="1302.40" y2="441.56" stroke="#000" stroke-width="2.95" stroke-linecap="round"/>
<text transform="translate(1283.30,449.16) scale(1,1.1000)" font-size="21.30" text-anchor="end">1</text>
<line x1="1297.10" y1="377.45" x2="1302.40" y2="377.45" stroke="#000" stroke-width="2.95" stroke-linecap="round"/>
<line x1="1291.60" y1="313.34" x2="1302.40" y2="313.34" stroke="#000" stroke-width="2.95" stroke-linecap="round"/>
<text transform="translate(1283.30,320.94) scale(1,1.1000)" font-size="21.30" text-anchor="end">2</text>
<line x1="1297.10" y1="249.23" x2="1302.40" y2="249.23" stroke="#000" stroke-width="2.95" stroke-linecap="round"/>
<line x1="1291.60" y1="185.12" x2="1302.40" y2="185.12" stroke="#000" stroke-width="2.95" stroke-linecap="round"/>
<text transform="translate(1283.30,192.72) scale(1,1.1000)" font-size="21.30" text-anchor="end">3</text>
<line x1="1297.10" y1="121.01" x2="1302.40" y2="121.01" stroke="#000" stroke-width="2.95" stroke-linecap="round"/>
<line x1="1291.60" y1="56.90" x2="1302.40" y2="56.90" stroke="#000" stroke-width="2.95" stroke-linecap="round"/>
<text transform="translate(1283.30,64.50) scale(1,1.1000)" font-size="21.30" text-anchor="end">4</text>
<line x1="1302.40" y1="698.00" x2="1302.40" y2="703.55" stroke="#000" stroke-width="2.95" stroke-linecap="round"/>
<line x1="1347.55" y1="698.00" x2="1347.55" y2="709.15" stroke="#000" stroke-width="2.95" stroke-linecap="round"/>
<text transform="translate(1347.85,738.70) scale(1,1.0700)" font-size="26.90" class="b" text-anchor="middle">40</text>
<line x1="1392.71" y1="698.00" x2="1392.71" y2="703.55" stroke="#000" stroke-width="2.95" stroke-linecap="round"/>
<line x1="1437.86" y1="698.00" x2="1437.86" y2="709.15" stroke="#000" stroke-width="2.95" stroke-linecap="round"/>
<text transform="translate(1438.16,738.70) scale(1,1.0700)" font-size="26.90" class="b" text-anchor="middle">60</text>
<line x1="1483.01" y1="698.00" x2="1483.01" y2="703.55" stroke="#000" stroke-width="2.95" stroke-linecap="round"/>
<line x1="1528.16" y1="698.00" x2="1528.16" y2="709.15" stroke="#000" stroke-width="2.95" stroke-linecap="round"/>
<text transform="translate(1528.46,738.70) scale(1,1.0700)" font-size="26.90" class="b" text-anchor="middle">80</text>
<line x1="1573.32" y1="698.00" x2="1573.32" y2="703.55" stroke="#000" stroke-width="2.95" stroke-linecap="round"/>
<line x1="1618.47" y1="698.00" x2="1618.47" y2="709.15" stroke="#000" stroke-width="2.95" stroke-linecap="round"/>
<text transform="translate(1618.77,738.70) scale(1,1.0700)" font-size="26.90" class="b" text-anchor="middle">100</text>
<line x1="1663.62" y1="698.00" x2="1663.62" y2="703.55" stroke="#000" stroke-width="2.95" stroke-linecap="round"/>
<line x1="1708.77" y1="698.00" x2="1708.77" y2="709.15" stroke="#000" stroke-width="2.95" stroke-linecap="round"/>
<text transform="translate(1709.07,738.70) scale(1,1.0700)" font-size="26.90" class="b" text-anchor="middle">120</text>
<line x1="1753.93" y1="698.00" x2="1753.93" y2="703.55" stroke="#000" stroke-width="2.95" stroke-linecap="round"/>
<line x1="1799.08" y1="698.00" x2="1799.08" y2="709.15" stroke="#000" stroke-width="2.95" stroke-linecap="round"/>
<text transform="translate(1799.38,738.70) scale(1,1.0700)" font-size="26.90" class="b" text-anchor="middle">140</text>
<line x1="1844.23" y1="698.00" x2="1844.23" y2="703.55" stroke="#000" stroke-width="2.95" stroke-linecap="round"/>
<line x1="1889.38" y1="698.00" x2="1889.38" y2="709.15" stroke="#000" stroke-width="2.95" stroke-linecap="round"/>
<text transform="translate(1889.68,738.70) scale(1,1.0700)" font-size="26.90" class="b" text-anchor="middle">160</text>
<line x1="1934.54" y1="698.00" x2="1934.54" y2="703.55" stroke="#000" stroke-width="2.95" stroke-linecap="round"/>
<line x1="1979.69" y1="698.00" x2="1979.69" y2="709.15" stroke="#000" stroke-width="2.95" stroke-linecap="round"/>
<text transform="translate(1979.99,738.70) scale(1,1.0700)" font-size="26.90" class="b" text-anchor="middle">180</text>
<line x1="2024.84" y1="698.00" x2="2024.84" y2="703.55" stroke="#000" stroke-width="2.95" stroke-linecap="round"/>
<line x1="2069.99" y1="698.00" x2="2069.99" y2="709.15" stroke="#000" stroke-width="2.95" stroke-linecap="round"/>
<text transform="translate(2070.29,738.70) scale(1,1.0700)" font-size="26.90" class="b" text-anchor="middle">200</text>
<line x1="2115.15" y1="698.00" x2="2115.15" y2="703.55" stroke="#000" stroke-width="2.95" stroke-linecap="round"/>
<line x1="2160.30" y1="698.00" x2="2160.30" y2="709.15" stroke="#000" stroke-width="2.95" stroke-linecap="round"/>
<text transform="translate(2160.60,738.70) scale(1,1.0700)" font-size="26.90" class="b" text-anchor="middle">220</text>
<circle cx="1302.40" cy="56.90" r="1.7" fill="#000"/>
<circle cx="1347.55" cy="56.90" r="1.7" fill="#000"/>
<circle cx="1392.71" cy="56.90" r="1.7" fill="#000"/>
<circle cx="1437.86" cy="56.90" r="1.7" fill="#000"/>
<circle cx="1483.01" cy="56.90" r="1.7" fill="#000"/>
<circle cx="1528.16" cy="56.90" r="1.7" fill="#000"/>
<circle cx="1573.32" cy="56.90" r="1.7" fill="#000"/>
<circle cx="1618.47" cy="56.90" r="1.7" fill="#000"/>
<circle cx="1663.62" cy="56.90" r="1.7" fill="#000"/>
<circle cx="1708.77" cy="56.90" r="1.7" fill="#000"/>
<circle cx="1753.93" cy="56.90" r="1.7" fill="#000"/>
<circle cx="1799.08" cy="56.90" r="1.7" fill="#000"/>
<circle cx="1844.23" cy="56.90" r="1.7" fill="#000"/>
<circle cx="1889.38" cy="56.90" r="1.7" fill="#000"/>
<circle cx="1934.54" cy="56.90" r="1.7" fill="#000"/>
<circle cx="1979.69" cy="56.90" r="1.7" fill="#000"/>
<circle cx="2024.84" cy="56.90" r="1.7" fill="#000"/>
<circle cx="2069.99" cy="56.90" r="1.7" fill="#000"/>
<circle cx="2115.15" cy="56.90" r="1.7" fill="#000"/>
<circle cx="2160.30" cy="56.90" r="1.7" fill="#000"/>
<circle cx="2160.30" cy="698.00" r="1.7" fill="#000"/>
<circle cx="2160.30" cy="633.89" r="1.7" fill="#000"/>
<circle cx="2160.30" cy="569.78" r="1.7" fill="#000"/>
<circle cx="2160.30" cy="505.67" r="1.7" fill="#000"/>
<circle cx="2160.30" cy="441.56" r="1.7" fill="#000"/>
<circle cx="2160.30" cy="377.45" r="1.7" fill="#000"/>
<circle cx="2160.30" cy="313.34" r="1.7" fill="#000"/>
<circle cx="2160.30" cy="249.23" r="1.7" fill="#000"/>
<circle cx="2160.30" cy="185.12" r="1.7" fill="#000"/>
<circle cx="2160.30" cy="121.01" r="1.7" fill="#000"/>
<circle cx="2160.30" cy="56.90" r="1.7" fill="#000"/>
<text transform="translate(1302.20,46.70) scale(1,1.0160)" font-size="31.40" class="b">(b) PLA 180</text>
<text transform="translate(1592.40,788.00) scale(1,1.0600)" font-size="31.30" class="b">Temperature (<tspan font-size="25" dy="-13">o</tspan><tspan dy="13">C)</tspan></text>
<text transform="translate(1259.70,534.60) rotate(-90) scale(1,1.0300)" font-size="27.10" class="b">Heat flow (W/g) endo up</text>
<text transform="translate(1340.00,204.80) scale(1,1.0750)" font-size="26.60">55.6 <tspan font-size="17.50" dy="-12.80">o</tspan><tspan dy="12.80">C</tspan></text>
<text transform="translate(1583.00,209.80) scale(1,1.0750)" font-size="26.60">109.7 <tspan font-size="17.50" dy="-12.80">o</tspan><tspan dy="12.80">C</tspan></text>
<text transform="translate(1346.50,380.80) scale(1,1.0750)" font-size="26.60">54.6 <tspan font-size="17.50" dy="-12.80">o</tspan><tspan dy="12.80">C</tspan></text>
<text transform="translate(1520.50,385.10) scale(1,1.0750)" font-size="26.60">107.8 <tspan font-size="17.50" dy="-12.80">o</tspan><tspan dy="12.80">C</tspan></text>
<text transform="translate(1340.00,499.60) scale(1,1.0750)" font-size="26.60">58.5 <tspan font-size="17.50" dy="-12.80">o</tspan><tspan dy="12.80">C</tspan></text>
<text transform="translate(1614.50,540.80) scale(1,1.0750)" font-size="26.60">110.6 <tspan font-size="17.50" dy="-12.80">o</tspan><tspan dy="12.80">C</tspan></text>
<text transform="translate(1796.50,163.80) scale(1,1.0750)" font-size="26.60">162.6 <tspan font-size="17.50" dy="-12.80">o</tspan><tspan dy="12.80">C</tspan></text>
<text transform="translate(1962.50,134.10) scale(1,1.0750)" font-size="26.60">169.9 <tspan font-size="17.50" dy="-12.80">o</tspan><tspan dy="12.80">C</tspan></text>
<text transform="translate(1783.00,342.10) scale(1,1.0750)" font-size="26.60">162.4 <tspan font-size="17.50" dy="-12.80">o</tspan><tspan dy="12.80">C</tspan></text>
<text transform="translate(1957.50,299.10) scale(1,1.0750)" font-size="26.60">170.1 <tspan font-size="17.50" dy="-12.80">o</tspan><tspan dy="12.80">C</tspan></text>
<text transform="translate(1814.50,462.10) scale(1,1.0750)" font-size="26.60">166.0 <tspan font-size="17.50" dy="-12.80">o</tspan><tspan dy="12.80">C</tspan></text>
<text transform="translate(1972.00,470.80) scale(1,1.0750)" font-size="26.60">173.4 <tspan font-size="17.50" dy="-12.80">o</tspan><tspan dy="12.80">C</tspan></text>
<line x1="1927.00" y1="75.00" x2="1986.50" y2="75.00" stroke="#ff00ff" stroke-width="2.80" stroke-linecap="round"/>
<text transform="translate(1994.60,86.60) scale(1,1.0300)" font-size="27.20">Quenched</text>
<line x1="1961.60" y1="386.20" x2="2021.50" y2="386.20" stroke="#0000ff" stroke-width="2.80" stroke-linecap="round"/>
<text transform="translate(2036.30,395.60) scale(1,1.0300)" font-size="27.20">2nd heat</text>
<line x1="1972.20" y1="536.60" x2="2032.10" y2="536.60" stroke="#000" stroke-width="2.80" stroke-linecap="round"/>
<text transform="translate(2040.40,546.00) scale(1,1.0300)" font-size="27.20">1st heat</text>
</g>
</svg>
</body></html>
